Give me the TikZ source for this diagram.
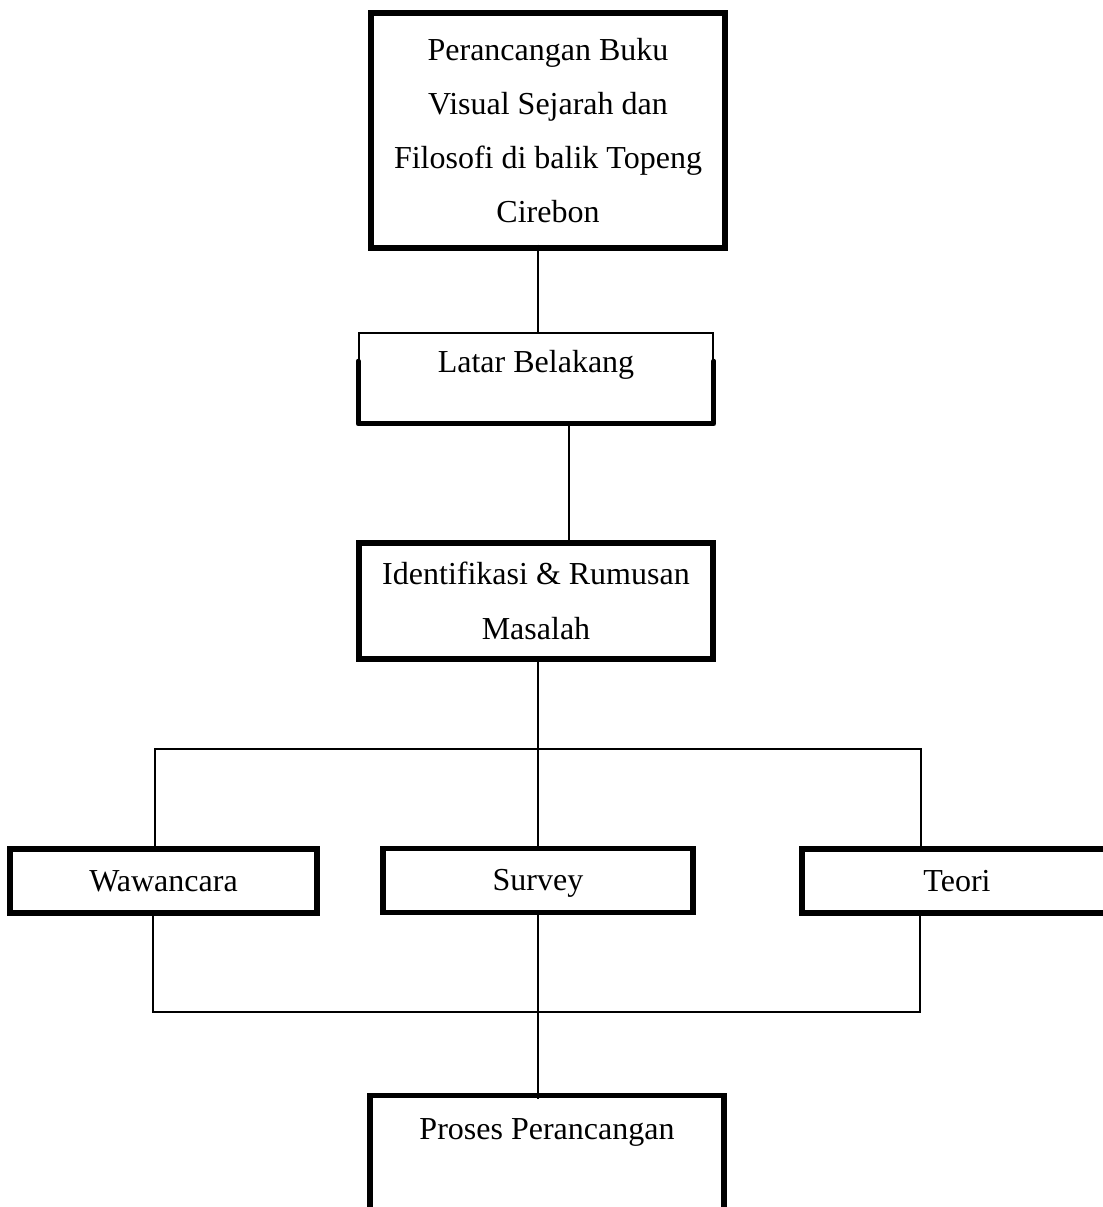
\documentclass[tikz,border=0pt]{standalone}
\usepackage{fontspec}
\setmainfont{Liberation Serif}
\usetikzlibrary{calc}
\tikzset{
  box/.style={draw=black, line width=3.8pt, fill=white, inner sep=0pt, align=center,
    font=\fontsize{24pt}{40.7pt}\selectfont},
  oneline/.style={text height=17pt, text depth=2pt},
  thinbox/.style={draw=black, line width=1.2pt, fill=white, inner sep=0pt},
  txt/.style={inner sep=0pt, font=\fontsize{24pt}{40.7pt}\selectfont},
  conn/.style={draw=black, line width=1.6pt},
  thickedge/.style={draw=black, line width=3.8pt, line cap=round, line join=round}
}
\begin{document}
\begin{tikzpicture}[x=0.75pt, y=-0.75pt]
\useasboundingbox (0,0) rectangle (1103,1207);
\clip (0,0) rectangle (1103,1207);
\fill[white] (0,0) rectangle (1103,1207);

\coordinate (bl) at (155,749);
\coordinate (br) at (921,749);
\coordinate (cl) at (153,1012);
\coordinate (cr) at (920,1012);

% boxes
\node[box, minimum width=265.5pt, minimum height=176.25pt] (top) at (548,130.5)
  {Perancangan Buku\\Visual Sejarah dan\\Filosofi di balik Topeng\\Cirebon};
\node[thinbox, minimum width=265.5pt, minimum height=67.5pt] (latar) at (536,378) {};
\draw[thickedge] ($(latar.north west)+(0,29)$) -- (latar.south west) -- (latar.south east) -- ($(latar.north east)+(0,29)$);
\node[txt] (latartext) at (536,365) {Latar Belakang};
\node[box, minimum width=265.5pt, minimum height=87pt] (ident) at (536,601)
  {Identifikasi \& Rumusan\\Masalah};
\node[box, oneline, minimum width=230.25pt, minimum height=48pt] (waw) at (163.5,881) {Wawancara};
\node[box, oneline, minimum width=232.5pt, minimum height=47.5pt] (survey) at (538,880.5) {Survey};
\node[box, oneline, minimum width=232.5pt, minimum height=48pt] (teori) at (957,881) {Teori};
\node[box, minimum width=265.5pt, minimum height=180pt, anchor=north] (proses) at (547,1093) {};
\node[txt] (prosestext) at (547,1132) {Proses Perancangan};

% connectors
\draw[conn] ($(top.south -| 538,0)+(0,-6)$) -- (latar.north -| 538,0);
\draw[conn] ([xshift=25]latar.south) -- ([xshift=25]ident.north);
\draw[conn] (ident.south -| survey.north) -- (survey.north);
\draw[conn] (waw.north -| bl) -- (bl) -- (br) -- (teori.north -| br);
\draw[conn] (waw.south -| cl) -- (cl) -- (cr) -- (teori.south -| cr);
\draw[conn] (survey.south) -- ($(survey.south |- proses.north)+(0,6)$);
\end{tikzpicture}
\end{document}
